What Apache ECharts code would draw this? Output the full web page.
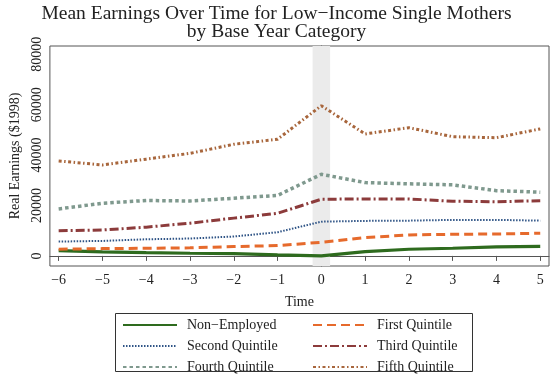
<!DOCTYPE html>
<html><head><meta charset="utf-8">
<script src="https://cdn.jsdelivr.net/npm/echarts@6/dist/echarts.min.js"></script>
<style>html,body{margin:0;padding:0;background:#fff}#c{width:553px;height:382px}</style>
</head><body><div id="c"></div>
<script>
const years = [-6,-5,-4,-3,-2,-1,0,1,2,3,4,5];
const nonEmployed = [2100,1600,1300,1050,900,400,0,1700,2650,3050,3600,3800];
const firstQ = [2650,2900,3050,3200,3700,4100,5400,7300,8300,8600,8700,9000];
const secondQ = [5700,5950,6600,6900,7700,9400,13600,13900,14000,14300,14300,14000];
const thirdQ = [10000,10300,11400,13000,15000,16900,22500,22600,22600,21700,21500,21900];
const fourthQ = [18650,20900,22000,21800,22900,24000,32400,29100,28600,28200,25900,25300];
const fifthQ = [37700,36100,38400,40700,44300,46300,59600,48400,50900,47300,46900,50400];
const yTicks = [0,20000,40000,60000,80000];
const xTicks = [-6,-5,-4,-3,-2,-1,0,1,2,3,4,5];

const serif = '"Liberation Serif","DejaVu Serif",serif';
function pts(arr){ return years.map((x,i)=>[x,arr[i]]); }
function ser(name, arr, color, width, type){
  return {name, type:'line', data:pts(arr), symbol:'none', z:3,
    lineStyle:{color, width, type}, itemStyle:{color}};
}
const legendCommon = {orient:'vertical', top:318, itemWidth:54, itemHeight:12, itemGap:7,
  padding:0, height:62, itemStyle:{opacity:0},
  textStyle:{fontFamily:serif, fontSize:14, color:'#222', padding:[0,0,0,5]}};
const chart = echarts.init(document.getElementById('c'));
chart.setOption({
  animation:false,
  backgroundColor:'#fff',
  title:{text:'Mean Earnings Over Time for Low\u2212Income Single Mothers\nby Base Year Category',
    left:'center', top:0,
    textStyle:{fontFamily:serif, fontSize:19.5, fontWeight:'normal', color:'#222', lineHeight:18}},
  grid:{left:39, right:4, top:46, bottom:116, show:true, borderColor:'#555', borderWidth:1},
  xAxis:{type:'value', min:-6.2, max:5.2, name:'Time', nameLocation:'middle', nameGap:29,
    nameTextStyle:{fontFamily:serif, fontSize:14, color:'#222'},
    axisLine:{show:true, lineStyle:{color:'#555'}},
    axisTick:{show:true, inside:false, length:5, customValues:xTicks, lineStyle:{color:'#555'}},
    axisLabel:{customValues:xTicks, fontFamily:serif, fontSize:14, color:'#222', margin:7,
      formatter:v=>String(v).replace('-', '\u2212')},
    splitLine:{show:false}},
  yAxis:{type:'value', min:-4000, max:83300, name:'Real Earnings ($1998)', nameLocation:'middle', nameGap:27,
    nameTextStyle:{fontFamily:serif, fontSize:14, color:'#222'},
    axisLine:{show:true, lineStyle:{color:'#555'}},
    axisTick:{show:true, inside:false, length:5, customValues:yTicks, lineStyle:{color:'#555'}},
    axisLabel:{customValues:yTicks, rotate:90, fontFamily:serif, fontSize:14, color:'#222', margin:6,
      formatter:v=>String(v)},
    splitLine:{show:false}},
  legend:[
    Object.assign({left:122, data:['Non\u2212Employed','Second Quintile','Fourth Quintile']}, legendCommon),
    Object.assign({left:312, data:['First Quintile','Third Quintile','Fifth Quintile']}, legendCommon)
  ],
  graphic:[{type:'rect', shape:{x:115.5, y:313.5, width:357, height:58},
    style:{fill:'none', stroke:'#333', lineWidth:1}, z:-1}],
  series:[
    {type:'line', data:[], z:1, silent:true,
     markArea:{silent:true, itemStyle:{color:'#ebebeb'}, data:[[{xAxis:-0.2},{xAxis:0.2}]]}},
    ser('Non\u2212Employed', nonEmployed, '#2e6b1e', 3.2, 'solid'),
    ser('First Quintile', firstQ, '#e66a2c', 3, [9,5]),
    ser('Second Quintile', secondQ, '#2f5486', 2, [1.5,1.5]),
    ser('Third Quintile', thirdQ, '#8c3b3b', 3, [9,3,2,3]),
    ser('Fourth Quintile', fourthQ, '#7f998e', 3.5, [3.5,3]),
    ser('Fifth Quintile', fifthQ, '#a8663c', 3, [3,2.5,1.5,2.5])
  ]
});
</script></body></html>
